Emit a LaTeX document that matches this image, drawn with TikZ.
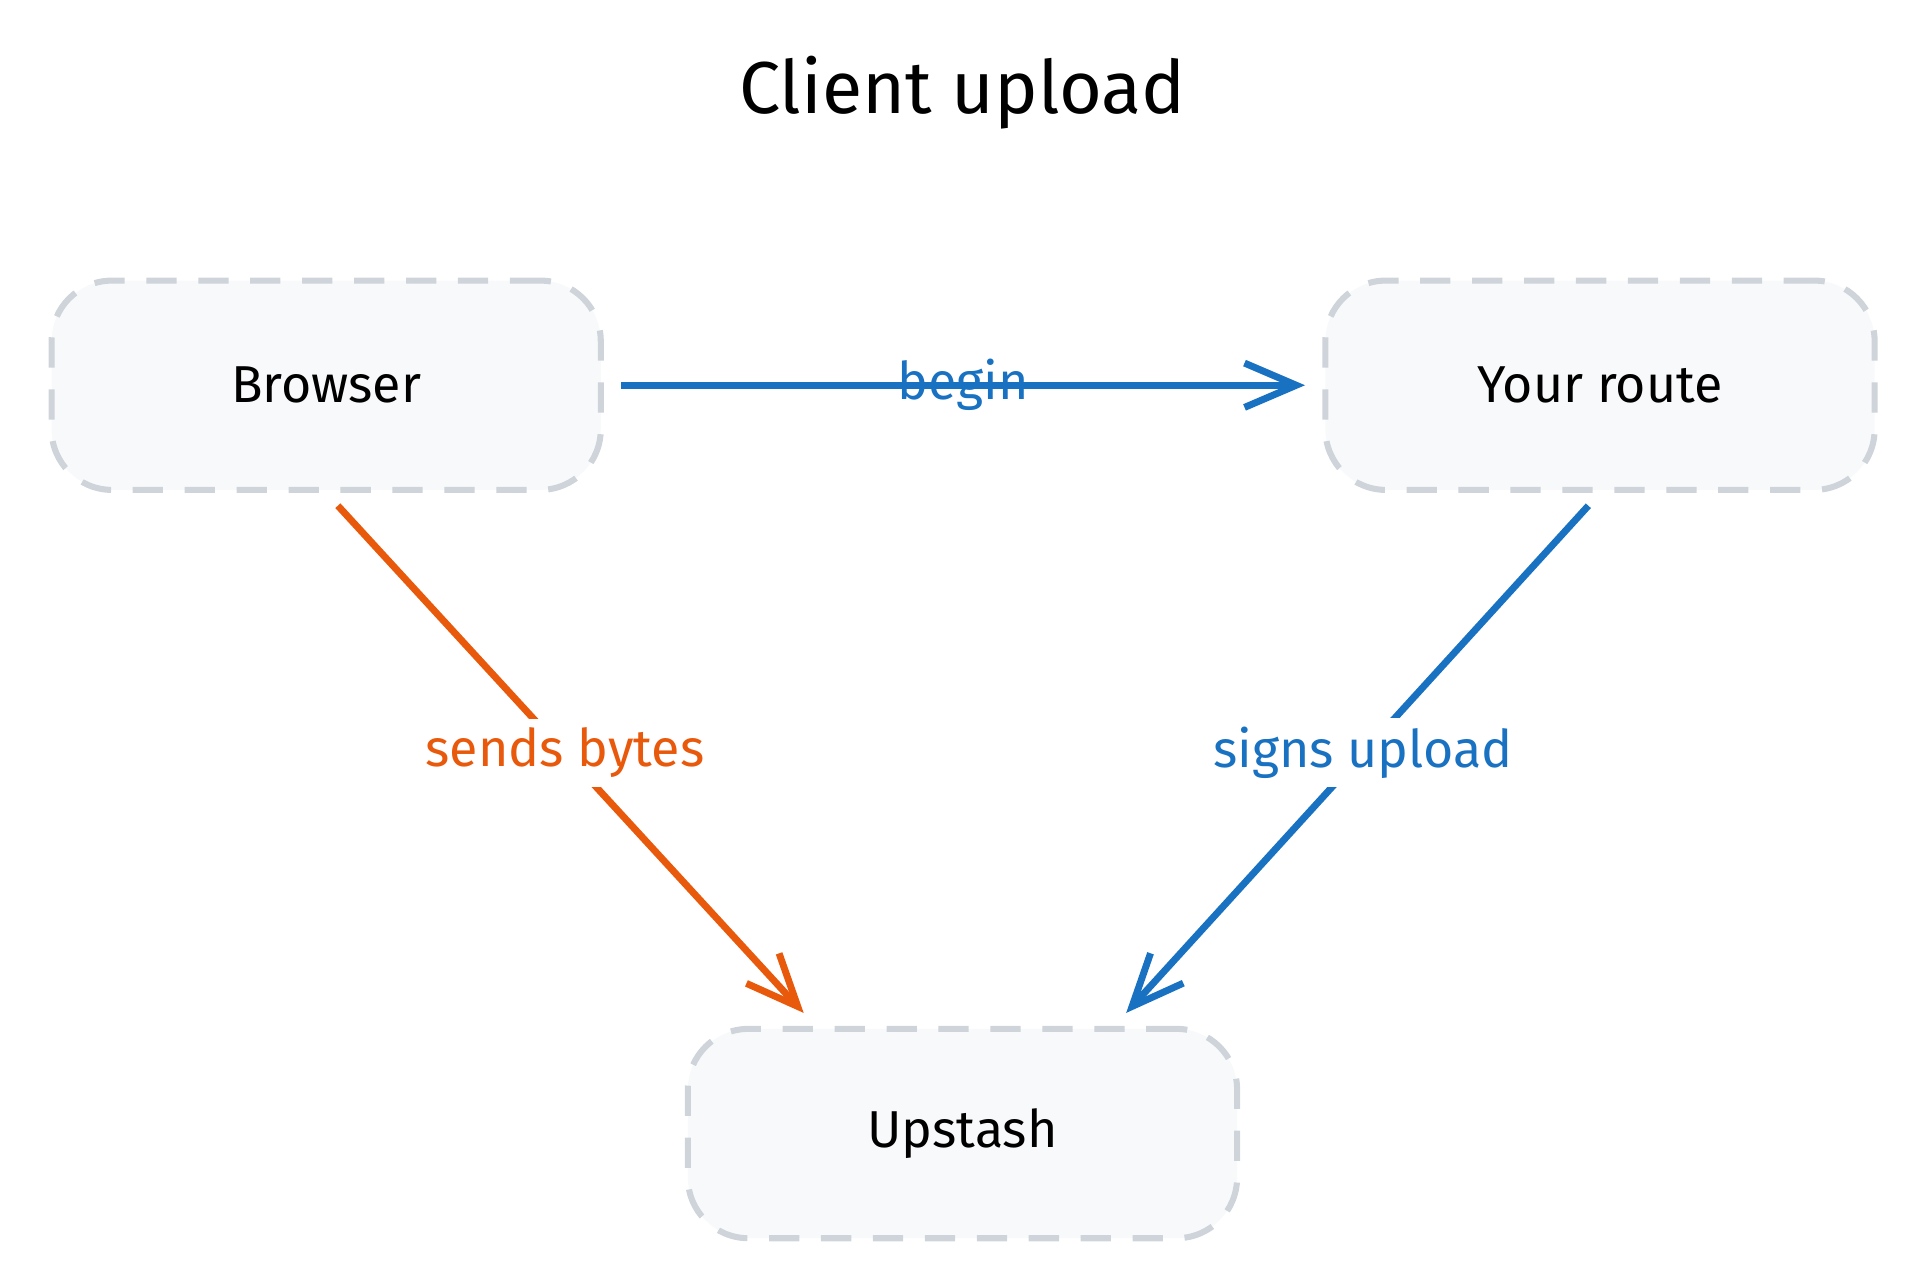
\documentclass[tikz,border=0pt]{standalone}
\usepackage{fontspec}
\setmainfont{Fira Sans}
\usetikzlibrary{arrows.meta,positioning}
\definecolor{linkblue}{HTML}{1971C2}
\definecolor{linkorange}{HTML}{E8590C}
\definecolor{boxfill}{HTML}{F8F9FA}
\definecolor{boxline}{HTML}{CED4DA}
\tikzset{
  box/.style={draw=boxline, fill=boxfill, line width=1.4pt, dash pattern=on 7pt off 5pt,
    rounded corners=14pt, minimum width=4.46cm, minimum height=1.7cm, font=\fontsize{12}{14}\selectfont},
  link/.style={line width=1.6pt, -{Straight Barb[length=4.2mm,width=3.6mm,line width=1.6pt]}},
  lbl/.style={fill=white, inner sep=2pt, font=\fontsize{12}{14}\selectfont}
}
\begin{document}
\begin{tikzpicture}[x=0.01cm,y=-0.01cm]
\useasboundingbox (0,0) rectangle (1560,1045);

% Title
\node[font=\fontsize{17}{20}\selectfont] (title) at (782,75) {Client upload};

% Boxes
\node[box] (browser) at (265,313) {Browser};
\node[box] (route) at (1300,313) {Your route};
\node[box] (upstash) at (782,921) {Upstash};

% Arrow ends
\coordinate (bytesin) at (653,823);
\coordinate (signin) at (915,823);

% Connectors
\draw[link, linkblue, shorten <=4pt, shorten >=4pt] (browser.east) -- (route.west)
  node[midway, text=linkblue, font=\fontsize{12}{14}\selectfont] {begin};
\draw[link, linkorange, shorten <=4pt] (browser.south) -- (bytesin)
  node[lbl, pos=0.5, text=linkorange] {sends bytes};
\draw[link, linkblue, shorten <=4pt] (route.south) -- (signin)
  node[lbl, pos=0.5, text=linkblue] {signs upload};
\end{tikzpicture}
\end{document}
